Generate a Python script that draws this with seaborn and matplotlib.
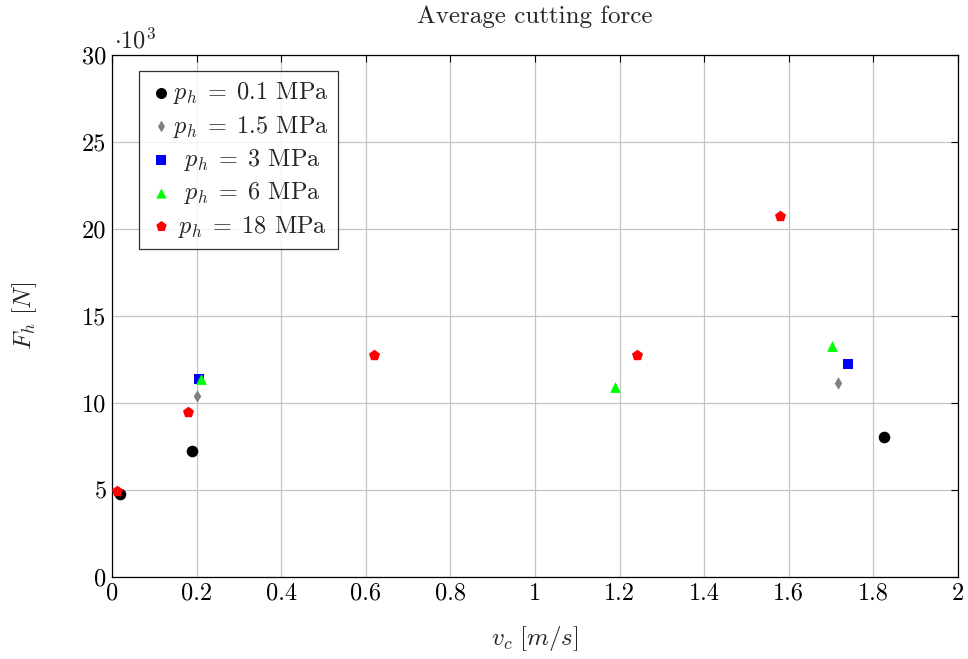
import pandas as pd
import matplotlib.pyplot as plt
import seaborn as sns

# data (force in thousands of N)
v_01 = [0.02, 0.19, 1.826]
f_01 = [4.75, 7.24, 8.06]
v_15 = [0.202, 1.717]
f_15 = [10.42, 11.17]
v_3 = [0.206, 1.741]
f_3 = [11.36, 12.24]
v_6 = [0.21, 1.19, 1.703]
f_6 = [11.38, 10.95, 13.28]
v_18 = [0.013, 0.18, 0.62, 1.24, 1.578]
f_18 = [4.96, 9.46, 12.74, 12.76, 20.73]

x_ticks = [0, 0.2, 0.4, 0.6, 0.8, 1, 1.2, 1.4, 1.6, 1.8, 2]
x_tick_labels = ['0', '0.2', '0.4', '0.6', '0.8', '1', '1.2', '1.4', '1.6', '1.8', '2']
y_ticks = [0, 5, 10, 15, 20, 25, 30]

series = [
    (v_01, f_01, r'$p_h\;=\;0.1$ MPa', 'black', 'o', 70),
    (v_15, f_15, r'$p_h\;=\;1.5$ MPa', 'gray', 'd', 40),
    (v_3, f_3, r'$\;\;p_h\;=\;3$ MPa', 'blue', 's', 60),
    (v_6, f_6, r'$\;\;p_h\;=\;6$ MPa', 'lime', '^', 60),
    (v_18, f_18, r'$\;p_h\;=\;18$ MPa', 'red', 'p', 70),
]

sns.set_style('white')
plt.rcParams['font.family'] = ['cmr10', 'DejaVu Serif']
plt.rcParams['mathtext.fontset'] = 'cm'
plt.rcParams['axes.unicode_minus'] = False

fig = plt.figure(figsize=(9.68, 6.59), dpi=100)
ax = fig.add_axes([0.1157, 0.1244, 0.874, 0.792])

for v, f, lab, col, mk, sz in series:
    df = pd.DataFrame({'v': v, 'F': f})
    sns.scatterplot(data=df, x='v', y='F', color=col, marker=mk, s=sz,
                    linewidth=0, label=lab, ax=ax, zorder=3)

ax.set_xlim(0, 2)
ax.set_ylim(0, 30)
ax.set_xticks(x_ticks)
ax.set_xticklabels(x_tick_labels)
ax.set_yticks(y_ticks)
ax.set_yticklabels([str(t) for t in y_ticks])
ax.grid(True, color='#c4c4c4', linewidth=0.9)
ax.set_axisbelow(True)
ax.tick_params(direction='in', length=5, width=0.8, top=True, right=True,
               labelsize=17.5, colors='black', pad=4)
for sp in ax.spines.values():
    sp.set_color('black')
    sp.set_linewidth(0.9)

ax.text(0.002, 1.003, r'$\cdot 10^3$', transform=ax.transAxes, fontsize=17.5,
        ha='left', va='bottom')

ax.set_title('Average cutting force', fontsize=18, pad=23)
ax.set_xlabel(r'$v_c\ [m/s]$', fontsize=18, labelpad=14)
ax.set_ylabel(r'$F_h\ [N]$', fontsize=18, labelpad=31)

leg = ax.legend(loc='upper left', bbox_to_anchor=(0.032, 0.97), fontsize=17.5,
                frameon=True, fancybox=False, edgecolor='black',
                handletextpad=0.0, handlelength=1.0, borderpad=0.4,
                labelspacing=0.3, borderaxespad=0, markerscale=0.95)
leg.get_frame().set_linewidth(0.9)

fig.savefig('out.png', dpi=100)
